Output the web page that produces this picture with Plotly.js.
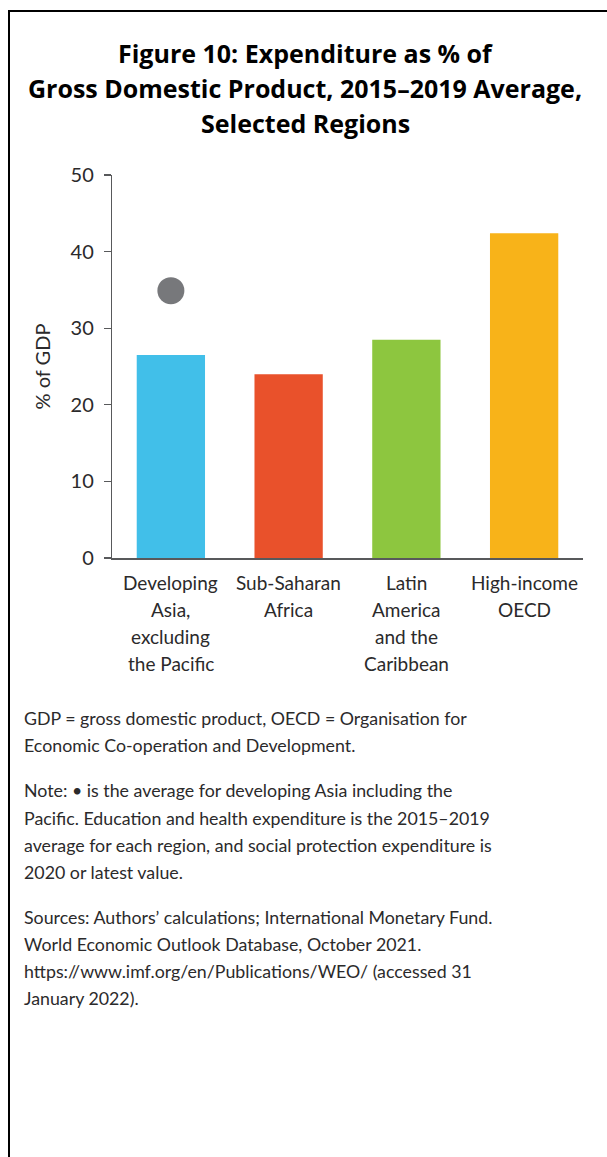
<!DOCTYPE html>
<html>
<head>
<meta charset="utf-8">
<script src="https://cdn.plot.ly/plotly-3.0.1.min.js"></script>
<style>
  html, body { margin: 0; padding: 0; background: #fff; }
  #chart { position: absolute; left: 0; top: 0; width: 607px; height: 1157px; }
  #frame { position: absolute; left: 8px; top: 10px; width: 620px; height: 1200px;
           border-top: 2px solid #000; border-left: 2px solid #000; pointer-events: none; }
</style>
</head>
<body>
<div id="chart"></div>
<div id="frame"></div>
<script>
// ---- data ----
const categories = [
  "Developing<br>Asia,<br>excluding<br>the Pacific",
  "Sub-Saharan<br>Africa",
  "Latin<br>America<br>and the<br>Caribbean",
  "High-income<br>OECD"
];
const expenditure = [26.5, 24.0, 28.5, 42.4];
const barColors = ["#41BFE9", "#E9512B", "#8DC63F", "#F8B319"];
const dotCategory = [categories[0]];
const dotValue = [34.9]; // developing Asia including the Pacific
const yTicks = [0, 10, 20, 30, 40, 50];

const titleLines = [
  "Figure 10: Expenditure as % of",
  "Gross Domestic Product, 2015–2019 Average,",
  "Selected Regions"
];
const footLines = [
  ["GDP = gross domestic product, OECD = Organisation for",
   "Economic Co-operation and Development."],
  ["Note: \u2022 is the average for developing Asia including the",
   "Pacific. Education and health expenditure is the 2015–2019",
   "average for each region, and social protection expenditure is",
   "2020 or latest value."],
  ["Sources: Authors’ calculations; International Monetary Fund.",
   "World Economic Outlook Database, October 2021.",
   "https://www.imf.org/en/Publications/WEO/ (accessed 31",
   "January 2022)."]
];

// ---- layout helpers (pixel -> paper) ----
const W = 607, H = 1157;
const plotTop = 175, plotBottom = 557.7, plotLeft = 112, plotRight = 583;
const ph = plotBottom - plotTop, pw = plotRight - plotLeft;
const py = p => (plotBottom - p) / ph;
const px = p => (p - plotLeft) / pw;

const FONT = "Lato, 'Open Sans', sans-serif";
const TITLE_FONT = "'Open Sans', Lato, sans-serif";
const TXT = "#2b2a2b";
const annotations = [];

titleLines.forEach((t, i) => {
  annotations.push({
    text: "<b>" + t + "</b>", xref: "paper", yref: "paper",
    x: px(305), y: py(53 + i * 35), xanchor: "center", yanchor: "middle",
    showarrow: false, font: {family: TITLE_FONT, size: 25, color: "#000"}
  });
});

categories.forEach(c => {
  c.split("<br>").forEach((line, j) => {
    annotations.push({
      text: line, xref: "x", yref: "paper", x: c, y: py(582 + j * 27),
      xanchor: "center", yanchor: "middle", showarrow: false,
      font: {family: FONT, size: 19, color: TXT}
    });
  });
});

let lineY = 718;
footLines.forEach(block => {
  block.forEach(line => {
    annotations.push({
      text: line, xref: "paper", yref: "paper", x: px(22), y: py(lineY),
      xanchor: "left", yanchor: "middle", showarrow: false,
      font: {family: FONT, size: 17.8, color: TXT}
    });
    lineY += 27;
  });
  lineY += 18;
});

const traces = [
  {
    type: "bar", x: categories, y: expenditure,
    marker: {color: barColors}, hoverinfo: "x+y", showlegend: false
  },
  {
    type: "scatter", mode: "markers", x: dotCategory, y: dotValue,
    marker: {color: "#77787B", size: 27}, showlegend: false
  }
];

const layout = {
  width: W, height: H,
  margin: {l: plotLeft, r: W - plotRight, t: plotTop, b: H - plotBottom},
  paper_bgcolor: "#fff", plot_bgcolor: "#fff",
  bargap: 0.42,
  font: {family: FONT, color: TXT},
  xaxis: {
    type: "category", range: [-0.5, 3.5], showticklabels: false,
    showline: true, linecolor: "#58595b", linewidth: 2, ticks: "",
    showgrid: false, zeroline: false, fixedrange: true
  },
  yaxis: {
    range: [0, 50], tickvals: yTicks, showgrid: false, zeroline: false,
    showline: true, linecolor: "#58595b", linewidth: 1.2,
    ticks: "outside", ticklen: 7, tickcolor: "#58595b", tickwidth: 1.2,
    tickfont: {family: FONT, size: 20, color: TXT}, ticklabelstandoff: 6,
    title: {text: "% of GDP", font: {family: FONT, size: 20, color: TXT}, standoff: 14},
    fixedrange: true
  },
  annotations: annotations
};

Plotly.newPlot("chart", traces, layout, {displayModeBar: false, staticPlot: true});
</script>
</body>
</html>
